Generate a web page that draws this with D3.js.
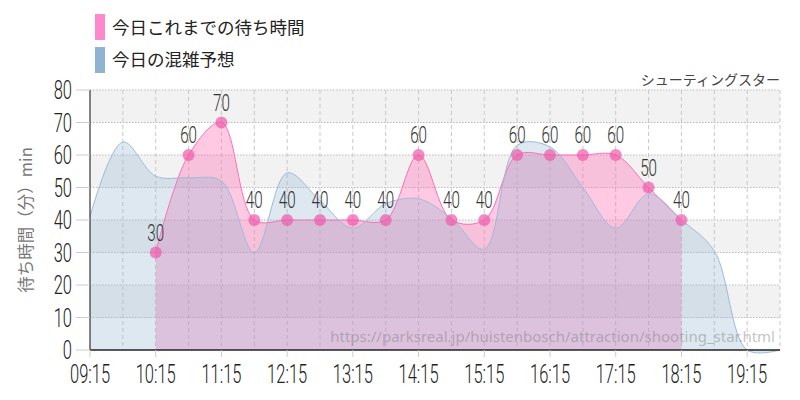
<!DOCTYPE html>
<html><head><meta charset="utf-8">
<script src="https://cdn.jsdelivr.net/npm/d3@7"></script>
<style>
html,body{margin:0;padding:0;background:#fff;}
svg{display:block;}
</style></head>
<body>
<svg id="chart" width="800" height="400"></svg>
<script>
// ---- data ----
const legendLabels = ["今日これまでの待ち時間", "今日の混雑予想"];
const attractionName = "シューティングスター";
const yAxisTitle = "待ち時間（分）min";
const sourceUrl = "https://parksreal.jp/huistenbosch/attraction/shooting_star.html";

const forecastTimes = ["09:15","09:45","10:15","10:45","11:15","11:45","12:15","12:45","13:15","13:45","14:15","14:45","15:15","15:45","16:15","16:45","17:15","17:45","18:15","18:45","19:15","19:45"];
const forecastValues = [41,64,53.5,53,52,30,54.5,46,37.5,45,46.5,40.5,31,63,62.5,50,37.5,48,40,30.5,0,0];

const actualTimes = ["10:15","10:45","11:15","11:45","12:15","12:45","13:15","13:45","14:15","14:45","15:15","15:45","16:15","16:45","17:15","17:45","18:15"];
const actualValues = [30,60,70,40,40,40,40,40,60,40,40,60,60,60,60,50,40];

const xTickLabels = ["09:15","10:15","11:15","12:15","13:15","14:15","15:15","16:15","17:15","18:15","19:15"];
const yTickValues = [0,10,20,30,40,50,60,70,80];

// ---- helpers ----
const toMin = s => { const [h,m] = s.split(":").map(Number); return h*60+m; };

const svg = d3.select("#chart");
const L = 90, R = 780, T = 90, B = 350;
const x = d3.scaleLinear().domain([toMin("09:15"), toMin("19:45")]).range([L, R]);
const y = d3.scaleLinear().domain([0, 80]).range([B, T]);

const numFont = "Roboto, 'Noto Sans', sans-serif";
const jpFont = "'Noto Sans CJK JP', 'Noto Sans', sans-serif";
const SX = 0.66;

// bands
const g = svg.append("g");
[10,30,50,70].forEach(v => {
  g.append("rect").attr("x", L).attr("width", R-L)
    .attr("y", y(v+10)).attr("height", y(v)-y(v+10)).attr("fill", "#f2f2f2");
});

// horizontal grid
g.selectAll("line.hg").data(yTickValues.filter(v=>v>0)).join("line")
  .attr("x1", L).attr("x2", R).attr("y1", d=>y(d)).attr("y2", d=>y(d))
  .attr("stroke", "#bbb").attr("stroke-width", 1).attr("stroke-dasharray", "1.5,1.5");

// vertical grid every 30 min
const gridTimes = d3.range(toMin("09:45"), toMin("19:45")+1, 30);
g.selectAll("line.vg").data(gridTimes).join("line")
  .attr("x1", d=>x(d)).attr("x2", d=>x(d)).attr("y1", T).attr("y2", B)
  .attr("stroke", "#c8c8c8").attr("stroke-width", 1).attr("stroke-dasharray", "4,3");

const curve = d3.curveCatmullRom.alpha(0.5);
const actual = actualTimes.map((t,i)=>({t:toMin(t), v:actualValues[i]}));
const forecast = forecastTimes.map((t,i)=>({t:toMin(t), v:forecastValues[i]}));

const area = d3.area().x(d=>x(d.t)).y0(y(0)).y1(d=>y(d.v)).curve(curve);
const line = d3.line().x(d=>x(d.t)).y(d=>y(d.v)).curve(curve);

svg.append("path").datum(actual).attr("d", area).attr("fill", "rgba(255,105,180,0.36)");
svg.append("path").datum(forecast).attr("d", area).attr("fill", "rgba(143,179,208,0.3)");
svg.append("path").datum(actual).attr("d", line).attr("fill", "none").attr("stroke", "#ff6fb5").attr("stroke-width", 1);
svg.append("path").datum(forecast).attr("d", line).attr("fill", "none").attr("stroke", "#9dbbd6").attr("stroke-width", 1);

// points
svg.selectAll("circle.pt").data(actual).join("circle")
  .attr("cx", d=>x(d.t)).attr("cy", d=>y(d.v)).attr("r", 6)
  .attr("fill", "rgba(240,90,170,0.7)");

// data labels
svg.selectAll("text.dl").data(actual).join("text")
  .attr("transform", d=>`translate(${x(d.t)},${y(d.v)-12}) scale(${SX},1)`)
  .attr("text-anchor", "middle")
  .attr("font-family", numFont).attr("font-weight", 300).attr("font-size", 23)
  .attr("fill", "#333").text(d=>d.v);

// axes lines
svg.append("line").attr("x1", L).attr("x2", L).attr("y1", T).attr("y2", B).attr("stroke", "#333").attr("stroke-width", 1.2);
svg.append("line").attr("x1", L).attr("x2", R).attr("y1", B).attr("y2", B).attr("stroke", "#222").attr("stroke-width", 1.5);

// y ticks & labels
svg.selectAll("line.yt").data(yTickValues).join("line")
  .attr("x1", 76).attr("x2", L).attr("y1", d=>y(d)).attr("y2", d=>y(d))
  .attr("stroke", "#ccc");
svg.selectAll("text.yl").data(yTickValues).join("text")
  .attr("transform", d=>`translate(72,${y(d)+9}) scale(${SX},1)`)
  .attr("text-anchor", "end")
  .attr("font-family", numFont).attr("font-weight", 300).attr("font-size", 25)
  .attr("fill", "#222").text(d=>d);

// x ticks & labels
svg.selectAll("line.xt").data(xTickLabels).join("line")
  .attr("x1", d=>x(toMin(d))).attr("x2", d=>x(toMin(d))).attr("y1", B).attr("y2", B+7)
  .attr("stroke", "#ccc");
svg.selectAll("text.xl").data(xTickLabels).join("text")
  .attr("transform", d=>`translate(${x(toMin(d))},383) scale(${SX},1)`)
  .attr("text-anchor", "middle")
  .attr("font-family", numFont).attr("font-weight", 300).attr("font-size", 25)
  .attr("fill", "#222").text(d=>d);

// y axis title
svg.append("text")
  .attr("transform", "translate(32,220) rotate(-90)")
  .attr("text-anchor", "middle")
  .attr("font-family", jpFont).attr("font-size", 16.5)
  .attr("fill", "#777").text(yAxisTitle);

// legend
const legendColors = ["#ff88cc", "#8fb3d0"];
legendLabels.forEach((lab,i) => {
  svg.append("rect").attr("x", 95).attr("y", 14 + i*33).attr("width", 10).attr("height", 26).attr("fill", legendColors[i]);
  svg.append("text").attr("x", 112).attr("y", 34 + i*32)
    .attr("font-family", jpFont).attr("font-size", 17.5).attr("fill", "#222").text(lab);
});

// attraction name
svg.append("text").attr("x", 780).attr("y", 85).attr("text-anchor", "end")
  .attr("font-family", jpFont).attr("font-size", 14).attr("fill", "#444")
  .text(attractionName);

// watermark
svg.append("text").attr("x", 775).attr("y", 342).attr("text-anchor", "end")
  .attr("font-family", "'Noto Sans', sans-serif").attr("font-size", 15)
  .attr("fill", "rgba(120,120,120,0.45)").text(sourceUrl);
</script>
</body></html>
